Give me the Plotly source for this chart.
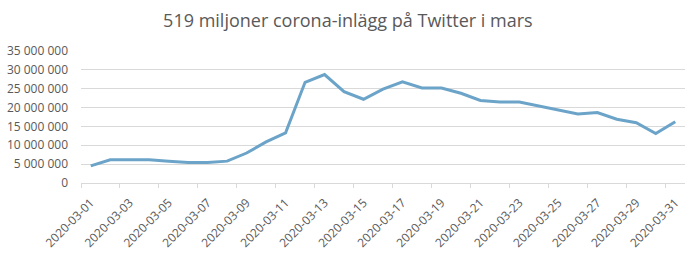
import plotly.graph_objects as go

dates = [f"2020-03-{d:02d}" for d in range(1, 32)]
posts = [4.55e6, 6.16e6, 6.16e6, 6.16e6, 5.8e6, 5.45e6, 5.45e6, 5.8e6, 7.95e6, 10.9e6,
         13.3e6, 26.7e6, 28.75e6, 24.2e6, 22.2e6, 24.9e6, 26.8e6, 25.2e6, 25.2e6, 23.8e6,
         21.9e6, 21.5e6, 21.5e6, 20.4e6, 19.2e6, 18.3e6, 18.7e6, 16.9e6, 16.0e6, 13.1e6, 16.25e6]
title_text = "519 miljoner corona-inlägg på Twitter i mars"

idx = list(range(len(dates)))
fig = go.Figure(go.Scatter(x=idx, y=posts, mode="lines",
                           line=dict(color="#6BA4C8", width=3)))

font_fam = "Open Sans, Liberation Sans, sans-serif"
fig.update_layout(
    width=700, height=257,
    margin=dict(l=81, r=15, t=51, b=74),
    paper_bgcolor="white", plot_bgcolor="white",
    separators=". ",
    showlegend=False,
    title=dict(text=title_text, x=0.497, xanchor="center", y=1 - 21 / 257,
               yanchor="middle", yref="container",
               font=dict(family=font_fam, size=18, color="#595959")),
    font=dict(family=font_fam, color="#595959"),
)
fig.update_xaxes(
    range=[-0.5, len(dates) - 0.5],
    tickvals=idx[::2], ticktext=dates[::2],
    tickangle=-45, ticks="", showgrid=False, zeroline=False,
    showline=True, linecolor="#d9d9d9", linewidth=1,
    ticklabelstandoff=7, automargin=False,
    tickfont=dict(size=12, color="#595959"),
    minor=dict(tick0=-0.5, dtick=2, ticks="outside", ticklen=4,
               tickcolor="#d9d9d9", tickwidth=1, showgrid=False),
)
fig.update_yaxes(
    range=[0, 35e6], dtick=5e6, tickformat=",d",
    showgrid=True, gridcolor="#d9d9d9", gridwidth=1,
    zeroline=False, showline=False, ticks="",
    ticklabelstandoff=12, automargin=False,
    tickfont=dict(size=12, color="#595959"),
)
fig.write_html("out.html")
